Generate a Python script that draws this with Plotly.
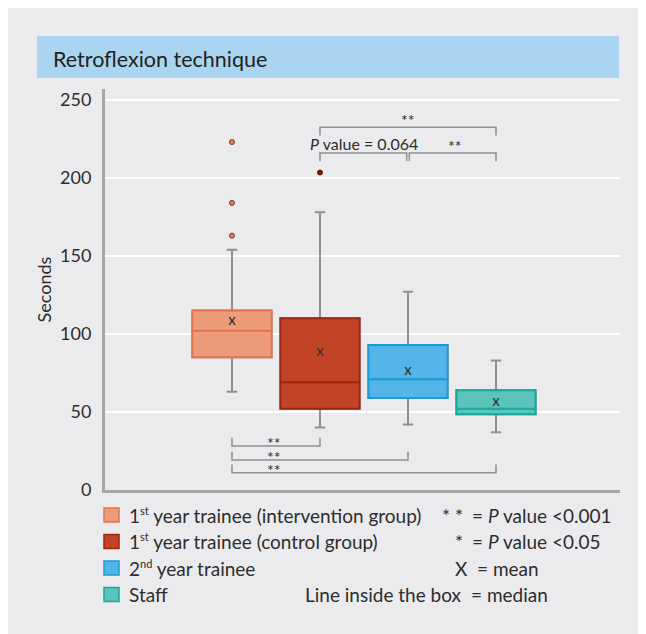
import plotly.graph_objects as go

# ---------------- data ----------------
groups = ["1st year trainee (intervention group)", "1st year trainee (control group)",
          "2nd year trainee", "Staff"]
SUP = "<sup><span style='font-size:11px'>{}</span></sup>"
legend_labels = ["1" + SUP.format("st") + " year trainee (intervention group)",
                 "1" + SUP.format("st") + " year trainee (control group)",
                 "2" + SUP.format("nd") + " year trainee", "Staff"]
lower_fence = [63, 40, 42, 37]
q1 = [85, 52, 59, 48.5]
median = [102, 69, 71, 52]
q3 = [115, 110, 93, 64]
upper_fence = [154, 178, 127, 83]
means = [108, 88, 76, 56]
outliers = [[223, 184, 163], [203.5], [], []]
y_ticks = [0, 50, 100, 150, 200, 250]

# significance brackets: (group a, group b, bracket level in seconds, label)
top_brackets = [(1, 3, 232.5, "**"), (1, 2, 216, "<i>P</i> value = 0.064"), (2, 3, 216, "**")]
bottom_brackets = [(0, 1, 28.2, "**"), (0, 2, 19.2, "**"), (0, 3, 11.1, "**")]

legend_notes = [("* *", "= <i>P</i> value <0.001"), ("*", "= <i>P</i> value <0.05"),
                ("X", "= mean"), ("Line inside the box", "= median")]

# ---------------- styles ----------------
FONT = "Lato"
fills = ["#ec9c7b", "#c34326", "#52b4e7", "#5bc5bc"]
edges = ["#e5734a", "#9c2512", "#1e9ad8", "#16a99b"]
out_fill = ["#e0845e", "#8b1a0a", "#000", "#000"]
out_edge = ["#7a3218", "#5a0f05", "#000", "#000"]
GREY = "#8f8f8f"
TXT = "#2d2d2d"
PANEL = "#ebebee"

OFF = 8                      # page body margin of the browser
W, H = 646 - OFF, 634 - OFF  # figure size so that it fits the window
L, R, T, B = 105, 620, 89, 490  # plot area in window pixels


def px(x):
    return (x - L) / (R - L)


def py(y):
    return (B - y) / (B - T)


fig = go.Figure()
positions = [0, 1, 2, 3]

for i, p in enumerate(positions):
    # whiskers (grey)
    fig.add_trace(go.Box(x=[p], q1=[q1[i]], median=[median[i]], q3=[q3[i]],
                         lowerfence=[lower_fence[i]], upperfence=[upper_fence[i]],
                         width=0.9, whiskerwidth=0.13, fillcolor="rgba(0,0,0,0)",
                         line=dict(color=GREY, width=2), boxpoints=False,
                         showlegend=False, hoverinfo="skip"))
    # coloured box
    fig.add_trace(go.Box(x=[p], q1=[q1[i]], median=[median[i]], q3=[q3[i]],
                         lowerfence=[q1[i]], upperfence=[q3[i]],
                         width=0.9, whiskerwidth=0, fillcolor=fills[i],
                         line=dict(color=edges[i], width=2), boxpoints=False,
                         name=groups[i], showlegend=False, hoverinfo="skip"))
    if outliers[i]:
        fig.add_trace(go.Scatter(x=[p] * len(outliers[i]), y=outliers[i], mode="markers",
                                 marker=dict(size=5, color=out_fill[i],
                                             line=dict(color=out_edge[i], width=1)),
                                 showlegend=False, hoverinfo="skip"))

# means
fig.add_trace(go.Scatter(x=positions, y=means, mode="text", text=["x"] * 4,
                         textposition="middle center",
                         textfont=dict(family=FONT, size=15, color=TXT),
                         showlegend=False, hoverinfo="skip"))


# brackets
def bracket(a, b, level, tick, gapl=0.0, gapr=0.0):
    xs = [a + gapl, a + gapl, b - gapr, b - gapr]
    ys = [level + tick, level, level, level + tick]
    fig.add_trace(go.Scatter(x=xs, y=ys, mode="lines",
                             line=dict(color=GREY, width=1.5),
                             showlegend=False, hoverinfo="skip"))


bracket(*top_brackets[0][:3], tick=-5.3)
bracket(*top_brackets[1][:3], tick=-5.3, gapr=0.015)
bracket(*top_brackets[2][:3], tick=-5.3, gapl=0.015)
for a, b, lev, lab in bottom_brackets:
    bracket(a, b, lev, tick=5.3)

STAR = 16
annos = []
annos.append(dict(x=2, y=top_brackets[0][2] + 5, text="**", showarrow=False, xref="x", yref="y",
                  font=dict(family=FONT, size=STAR, color=TXT)))
annos.append(dict(x=1.5, y=top_brackets[1][2] + 6, text=top_brackets[1][3], showarrow=False,
                  xref="x", yref="y", font=dict(family=FONT, size=16, color=TXT)))
annos.append(dict(x=2.53, y=top_brackets[2][2] + 5, text="**", showarrow=False, xref="x", yref="y",
                  font=dict(family=FONT, size=STAR, color=TXT)))
for a, b, lev, lab in bottom_brackets:
    annos.append(dict(x=0.48, y=lev + 2, text=lab, showarrow=False, xref="x", yref="y",
                      font=dict(family=FONT, size=STAR, color=TXT)))

# title
annos.append(dict(x=px(51), y=py(59), xref="paper", yref="paper", xanchor="left", yanchor="middle",
                  text="Retroflexion technique", showarrow=False,
                  font=dict(family=FONT, size=21.5, color="#222")))

shapes = [
    dict(type="rect", xref="paper", yref="paper", x0=px(37), x1=px(619), y0=py(36), y1=py(78),
         fillcolor="#a9d5f0", line=dict(width=0), layer="below"),
]

# legend
LEG = 19
row_y = [515, 541.5, 568, 594.5]
for i in range(4):
    shapes.append(dict(type="rect", xref="paper", yref="paper", x0=px(104), x1=px(119),
                       y0=py(row_y[i] - 7), y1=py(row_y[i] + 7), fillcolor=fills[i],
                       line=dict(color=edges[i], width=1.5)))
    annos.append(dict(x=px(127), y=py(row_y[i]), xref="paper", yref="paper", xanchor="left",
                      yanchor="middle", text=legend_labels[i], showarrow=False,
                      font=dict(family=FONT, size=LEG, color=TXT)))
eq_x = [470, 470, 475, 469]
for i, (sym, rest) in enumerate(legend_notes):
    annos.append(dict(x=px(eq_x[i] - 5), y=py(row_y[i]), xref="paper", yref="paper", xanchor="right",
                      yanchor="middle", text=sym, showarrow=False,
                      font=dict(family=FONT, size=LEG, color=TXT)))
    annos.append(dict(x=px(eq_x[i]), y=py(row_y[i]), xref="paper", yref="paper", xanchor="left",
                      yanchor="middle", text=rest, showarrow=False,
                      font=dict(family=FONT, size=LEG, color=TXT)))

fig.update_layout(
    width=W, height=H, autosize=False,
    margin=dict(l=L - OFF, r=W - (R - OFF), t=T - OFF, b=H - (B - OFF), pad=0),
    paper_bgcolor=PANEL, plot_bgcolor="rgba(0,0,0,0)",
    boxmode="overlay",
    shapes=shapes, annotations=annos,
    font=dict(family=FONT, color=TXT),
    xaxis=dict(range=[-1.443, 4.409], showgrid=False, zeroline=False, showticklabels=False,
               showline=True, linecolor="#a6a6a6", linewidth=3, ticks=""),
    yaxis=dict(range=[0, 257], tickvals=y_ticks, showgrid=True, gridcolor="white", gridwidth=2,
               zeroline=False, showline=True, linecolor="#a6a6a6", linewidth=3, ticks="",
               ticklabelstandoff=7, tickfont=dict(family=FONT, size=18, color=TXT),
               title=dict(text="Seconds", font=dict(family=FONT, size=18, color=TXT), standoff=4)),
)

fig.write_html("out.html", post_script="document.body.style.overflow='hidden';")
